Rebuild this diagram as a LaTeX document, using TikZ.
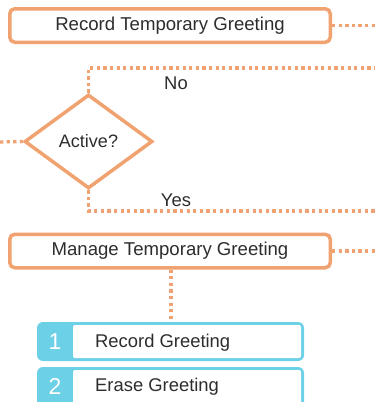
\documentclass[tikz,border=0pt]{standalone}
\usepackage{fontspec}
\setmainfont{Liberation Sans}
\usetikzlibrary{shapes.geometric}
\definecolor{org}{RGB}{240,162,112}
\definecolor{blu}{RGB}{108,208,230}
\definecolor{txt}{RGB}{45,45,45}
\tikzset{
  obox/.style={draw=org, line width=3.5pt, rounded corners=5pt, fill=white, inner sep=0pt,
    minimum width=320.5pt, minimum height=33.5pt, text=txt, font=\fontsize{18.6}{20}\selectfont},
  dec/.style={draw=org, line width=3.5pt, shape=diamond, inner sep=0pt,
    minimum width=128pt, minimum height=94pt, text=txt, font=\fontsize{18}{20}\selectfont},
  dots/.style={draw=org, line width=3.2pt, dash pattern=on 3.3pt off 3.3pt},
  lbl/.style={text=txt, font=\fontsize{18.4}{20}\selectfont, inner sep=0pt},
  num/.style={text=white, font=\fontsize{23}{24}\selectfont, inner sep=0pt},
  itm/.style={text=txt, font=\fontsize{18.4}{20}\selectfont, inner sep=0pt, anchor=west}
}
\begin{document}
\begin{tikzpicture}[x=1pt,y=-1pt]
\useasboundingbox (0,0) rectangle (375,402);
\clip (0,0) rectangle (375,402);
\coordinate (e1) at (375,25.5);
\coordinate (nocorner) at (88.5,68);
\coordinate (noend) at (375,68);
\coordinate (yescorner) at (88.5,211);
\coordinate (yesend) at (375,211);
\coordinate (lin) at (0,142);
\coordinate (e2) at (375,251);

\node[obox] (rec) at (170,25.5) {Record Temporary Greeting};
\node[dec] (act) at (88.5,141.5) {Active?};
\node[obox] (man) at (170,251) {Manage Temporary Greeting};

\draw[dots] (rec.east) -- (e1);
\draw[dots] (act.north) -- (nocorner) -- (noend);
\draw[dots] (act.south) -- (yescorner) -- (yesend);
\draw[dots] (lin) -- (act.west);
\draw[dots] (man.east) -- (e2);

\node[lbl] (no) at (176,83) {No};
\node[lbl] (yes) at (176,200) {Yes};

\fill[blu, rounded corners=6pt] (37,322) rectangle (304,361);
\fill[white, rounded corners=2pt] (73,325) rectangle (301,358);
\coordinate (i1top) at (171,322);
\draw[dots] (man.south -| i1top) -- (i1top);
\node[num] (n1) at (55,342) {1};
\node[itm] (t1) at (95,342.5) {Record Greeting};

\fill[blu, rounded corners=6pt] (37,367) rectangle (304,410);
\fill[white, rounded corners=2pt] (73,370) rectangle (301,407);
\node[num] (n2) at (55,386.5) {2};
\node[itm] (t2) at (95,387) {Erase Greeting};
\end{tikzpicture}
\end{document}
